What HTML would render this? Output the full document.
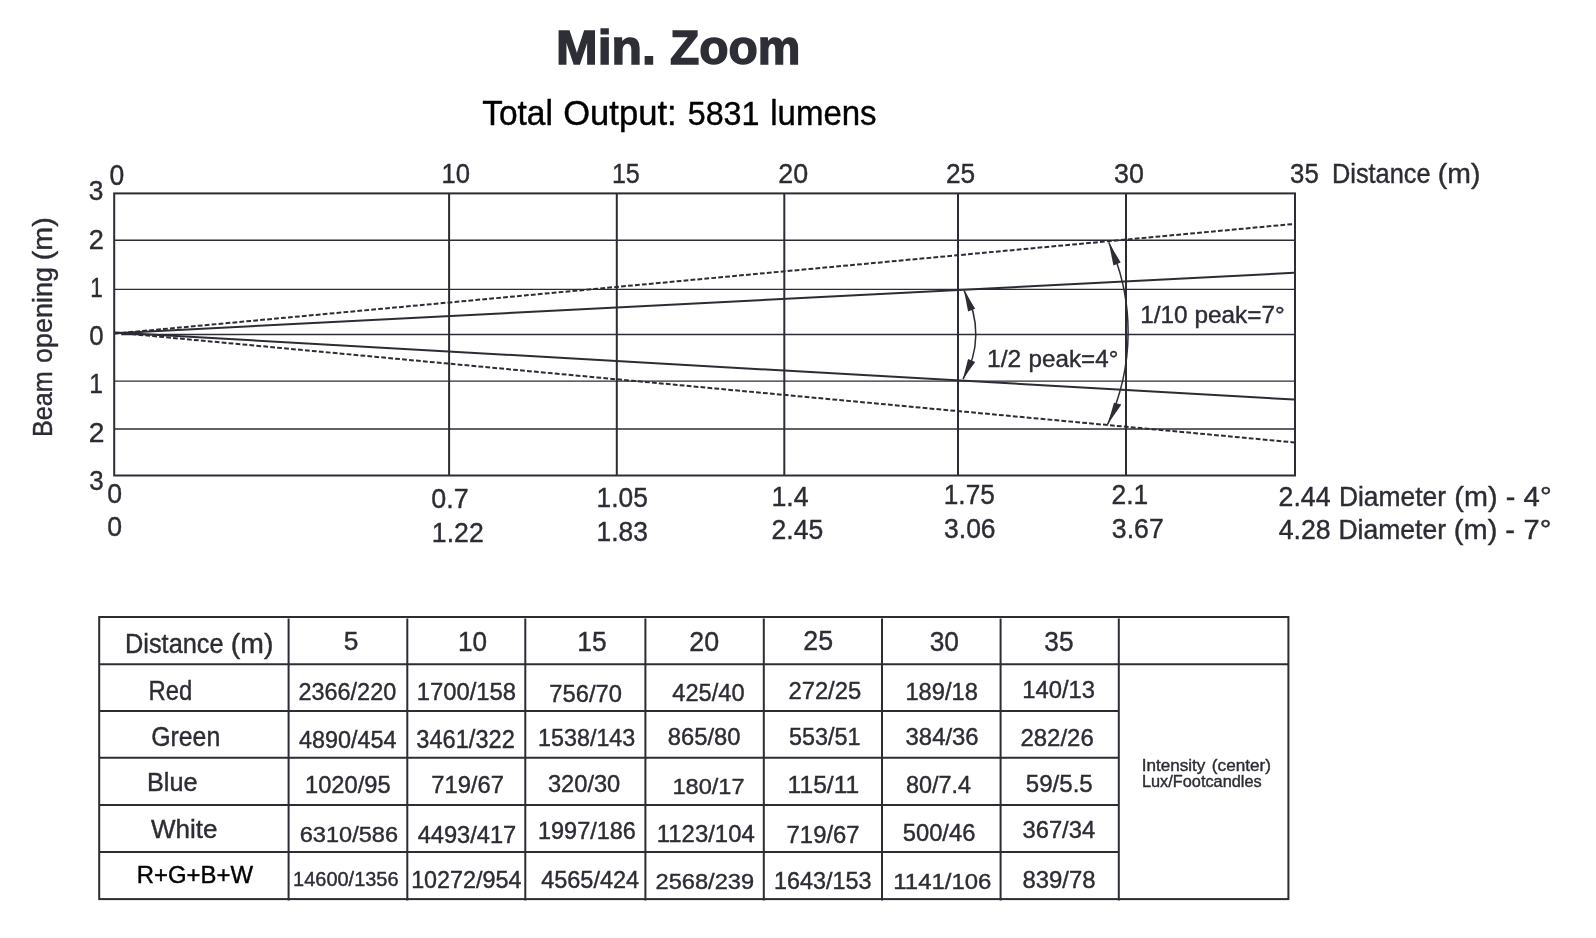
<!DOCTYPE html>
<html><head><meta charset="utf-8"><title>Min. Zoom</title>
<style>html,body{margin:0;padding:0;background:#fff;width:1596px;height:938px;overflow:hidden}svg{display:block;will-change:transform}text{font-family:"Liberation Sans",sans-serif}</style>
</head><body>
<svg width="1596" height="938" viewBox="0 0 1596 938">
<rect width="1596" height="938" fill="#fff"/>
<line x1="114.2" y1="240.2" x2="1295" y2="240.2" stroke="#2c2c34" stroke-width="1.4"/>
<line x1="114.2" y1="289.4" x2="1295" y2="289.4" stroke="#2c2c34" stroke-width="1.4"/>
<line x1="114.2" y1="381.1" x2="1295" y2="381.1" stroke="#2c2c34" stroke-width="1.4"/>
<line x1="114.2" y1="429" x2="1295" y2="429" stroke="#2c2c34" stroke-width="1.4"/>
<line x1="121.2" y1="334.46" x2="1295" y2="334.46" stroke="#2c2c34" stroke-width="1.4"/>
<line x1="449.1" y1="193.4" x2="449.1" y2="475.5" stroke="#2c2c34" stroke-width="2.0"/>
<line x1="616.8" y1="193.4" x2="616.8" y2="475.5" stroke="#2c2c34" stroke-width="2.0"/>
<line x1="784.3" y1="193.4" x2="784.3" y2="475.5" stroke="#2c2c34" stroke-width="2.0"/>
<line x1="958" y1="193.4" x2="958" y2="475.5" stroke="#2c2c34" stroke-width="2.0"/>
<line x1="1126" y1="193.4" x2="1126" y2="475.5" stroke="#2c2c34" stroke-width="2.0"/>
<rect x="114.2" y="193.4" width="1180.8" height="282.1" fill="none" stroke="#2c2c34" stroke-width="2"/>
<line x1="114.5" y1="333.2" x2="1294" y2="272.8" stroke="#2c2c34" stroke-width="2.0"/>
<line x1="114.5" y1="332.5" x2="1294" y2="399.5" stroke="#2c2c34" stroke-width="2.0"/>
<line x1="114.5" y1="333.6" x2="1292.5" y2="224.1" stroke="#2c2c34" stroke-width="2.0" stroke-dasharray="4.78 2.19" stroke-dashoffset="0.03"/>
<line x1="114.5" y1="332.5" x2="1294" y2="442.4" stroke="#2c2c34" stroke-width="2.0" stroke-dasharray="4.78 2.19" stroke-dashoffset="3.9"/>
<path d="M964 290.5 A85.71 85.71 0 0 1 963 379" fill="none" stroke="#2c2c34" stroke-width="1.5"/>
<path d="M1108.8 242.4 A217.98 217.98 0 0 1 1107.6 424.4" fill="none" stroke="#2c2c34" stroke-width="1.5"/>
<path d="M964 290.5 L968.1 311.6 L975.2 308.7 Z" fill="#2c2c34"/>
<path d="M962.9 379 L968.1 359.1 L975.2 362.1 Z" fill="#2c2c34"/>
<path d="M1108.8 242.4 L1113.4 265.4 L1120.7 262.5 Z" fill="#2c2c34"/>
<path d="M1107.6 424.4 L1114 402.7 L1121.4 404.4 Z" fill="#2c2c34"/>
<rect x="99.2" y="617.0" width="1189.2" height="282.1" fill="none" stroke="#2c2c34" stroke-width="2"/>
<line x1="99.2" y1="664.2" x2="1288.4" y2="664.2" stroke="#2c2c34" stroke-width="2.0"/>
<line x1="99.2" y1="710.9" x2="1118.8" y2="710.9" stroke="#2c2c34" stroke-width="2.0"/>
<line x1="99.2" y1="757.8" x2="1118.8" y2="757.8" stroke="#2c2c34" stroke-width="2.0"/>
<line x1="99.2" y1="805" x2="1118.8" y2="805" stroke="#2c2c34" stroke-width="2.0"/>
<line x1="99.2" y1="852.1" x2="1118.8" y2="852.1" stroke="#2c2c34" stroke-width="2.0"/>
<line x1="288.6" y1="618.5" x2="288.6" y2="900.6" stroke="#2c2c34" stroke-width="2.0"/>
<line x1="407.3" y1="618.5" x2="407.3" y2="900.6" stroke="#2c2c34" stroke-width="2.0"/>
<line x1="525.3" y1="618.5" x2="525.3" y2="900.6" stroke="#2c2c34" stroke-width="2.0"/>
<line x1="645.4" y1="618.5" x2="645.4" y2="900.6" stroke="#2c2c34" stroke-width="2.0"/>
<line x1="763.8" y1="618.5" x2="763.8" y2="900.6" stroke="#2c2c34" stroke-width="2.0"/>
<line x1="882" y1="618.5" x2="882" y2="900.6" stroke="#2c2c34" stroke-width="2.0"/>
<line x1="1000.6" y1="618.5" x2="1000.6" y2="900.6" stroke="#2c2c34" stroke-width="2.0"/>
<line x1="1118.8" y1="618.5" x2="1118.8" y2="900.6" stroke="#2c2c34" stroke-width="2.0"/>
<text transform="translate(556.1 64) scale(1.0507 1)" font-size="47.54" fill="#2e2e36" stroke="#2e2e36" stroke-width="1.4" font-weight="bold">Min.</text>
<text transform="translate(669.96 64) scale(1.0086 1)" font-size="47.54" fill="#2e2e36" stroke="#2e2e36" stroke-width="1.4" font-weight="bold">Zoom</text>
<text transform="translate(482.13 124.6) scale(0.9685 1)" font-size="34.64" fill="#000000" stroke="#000000" stroke-width="0.4">Total</text>
<text transform="translate(563.17 124.6) scale(0.9985 1)" font-size="34.64" fill="#000000" stroke="#000000" stroke-width="0.4">Output:</text>
<text transform="translate(687.71 124.6) scale(0.9487 1)" font-size="34" fill="#000000" stroke="#000000" stroke-width="0.4">5831</text>
<text transform="translate(770.29 124.6) scale(0.9522 1)" font-size="34.64" fill="#000000" stroke="#000000" stroke-width="0.4">lumens</text>
<text transform="translate(109.54 185.1) scale(0.9254 1)" font-size="28.59" fill="#2c2c34" stroke="#2c2c34" stroke-width="0.4">0</text>
<text transform="translate(441.45 183) scale(0.9064 1)" font-size="28.31" fill="#2c2c34" stroke="#2c2c34" stroke-width="0.4">10</text>
<text transform="translate(611.89 183) scale(0.8885 1)" font-size="28.31" fill="#2c2c34" stroke="#2c2c34" stroke-width="0.4">15</text>
<text transform="translate(778.26 183.3) scale(0.9490 1)" font-size="28.31" fill="#2c2c34" stroke="#2c2c34" stroke-width="0.4">20</text>
<text transform="translate(945.99 183.3) scale(0.9282 1)" font-size="28.31" fill="#2c2c34" stroke="#2c2c34" stroke-width="0.4">25</text>
<text transform="translate(1114.02 183.3) scale(0.9500 1)" font-size="28.31" fill="#2c2c34" stroke="#2c2c34" stroke-width="0.4">30</text>
<text transform="translate(1290.07 183.3) scale(0.9089 1)" font-size="28.31" fill="#2c2c34" stroke="#2c2c34" stroke-width="0.4">35</text>
<text transform="translate(1331.97 182.7) scale(0.9407 1)" font-size="26.96" fill="#2c2c34" stroke="#2c2c34" stroke-width="0.4">Distance</text>
<text transform="translate(1437.8 182.7) scale(1.0538 1)" font-size="26.96" fill="#2c2c34" stroke="#2c2c34" stroke-width="0.4">(m)</text>
<text transform="translate(88.84 200) scale(0.9511 1)" font-size="27.74" fill="#2c2c34" stroke="#2c2c34" stroke-width="0.4">3</text>
<text transform="translate(88.84 248.5) scale(0.9950 1)" font-size="27.31" fill="#2c2c34" stroke="#2c2c34" stroke-width="0.4">2</text>
<text transform="translate(90.2 296.8) scale(0.8217 1)" font-size="27.45" fill="#2c2c34" stroke="#2c2c34" stroke-width="0.4">1</text>
<text transform="translate(89.27 345.1) scale(0.9126 1)" font-size="28.31" fill="#2c2c34" stroke="#2c2c34" stroke-width="0.4">0</text>
<text transform="translate(89.33 392.5) scale(0.8797 1)" font-size="28.02" fill="#2c2c34" stroke="#2c2c34" stroke-width="0.4">1</text>
<text transform="translate(88.79 442.4) scale(1.0085 1)" font-size="28.02" fill="#2c2c34" stroke="#2c2c34" stroke-width="0.4">2</text>
<text transform="translate(89.16 490.4) scale(0.9263 1)" font-size="28.02" fill="#2c2c34" stroke="#2c2c34" stroke-width="0.4">3</text>
<text transform="translate(107.23 502.9) scale(0.9516 1)" font-size="28.02" fill="#2c2c34" stroke="#2c2c34" stroke-width="0.4">0</text>
<text transform="translate(431.32 507.9) scale(0.9657 1)" font-size="27.88" fill="#2c2c34" stroke="#2c2c34" stroke-width="0.4">0.7</text>
<text transform="translate(596.49 507.1) scale(0.9317 1)" font-size="28.31" fill="#2c2c34" stroke="#2c2c34" stroke-width="0.4">1.05</text>
<text transform="translate(771.46 505.8) scale(0.9661 1)" font-size="27.74" fill="#2c2c34" stroke="#2c2c34" stroke-width="0.4">1.4</text>
<text transform="translate(943.8 504.1) scale(0.9449 1)" font-size="27.74" fill="#2c2c34" stroke="#2c2c34" stroke-width="0.4">1.75</text>
<text transform="translate(1111.58 504.1) scale(0.9530 1)" font-size="27.74" fill="#2c2c34" stroke="#2c2c34" stroke-width="0.4">2.1</text>
<text transform="translate(1278.57 505.6) scale(0.9822 1)" font-size="27.17" fill="#2c2c34" stroke="#2c2c34" stroke-width="0.4">2.44</text>
<text transform="translate(1338.89 505.6) scale(0.9542 1)" font-size="27.68" fill="#2c2c34" stroke="#2c2c34" stroke-width="0.4">Diameter</text>
<text transform="translate(1454.37 505.6) scale(1.0393 1)" font-size="27.68" fill="#2c2c34" stroke="#2c2c34" stroke-width="0.4">(m)</text>
<text transform="translate(1505.65 505.6) scale(1.0404 1)" font-size="27.68" fill="#2c2c34" stroke="#2c2c34" stroke-width="0.4">-</text>
<text transform="translate(1523.61 505.6) scale(1.0788 1)" font-size="27.17" fill="#2c2c34" stroke="#2c2c34" stroke-width="0.4">4°</text>
<text transform="translate(107.23 536.1) scale(0.9516 1)" font-size="28.02" fill="#2c2c34" stroke="#2c2c34" stroke-width="0.4">0</text>
<text transform="translate(431.87 541.7) scale(0.9607 1)" font-size="27.74" fill="#2c2c34" stroke="#2c2c34" stroke-width="0.4">1.22</text>
<text transform="translate(596.49 541) scale(0.9460 1)" font-size="27.88" fill="#2c2c34" stroke="#2c2c34" stroke-width="0.4">1.83</text>
<text transform="translate(771.57 538.7) scale(0.9423 1)" font-size="28.17" fill="#2c2c34" stroke="#2c2c34" stroke-width="0.4">2.45</text>
<text transform="translate(944.04 538) scale(0.9507 1)" font-size="27.88" fill="#2c2c34" stroke="#2c2c34" stroke-width="0.4">3.06</text>
<text transform="translate(1111.83 538) scale(0.9565 1)" font-size="27.88" fill="#2c2c34" stroke="#2c2c34" stroke-width="0.4">3.67</text>
<text transform="translate(1278.67 538.6) scale(0.9808 1)" font-size="27.17" fill="#2c2c34" stroke="#2c2c34" stroke-width="0.4">4.28</text>
<text transform="translate(1338.38 538.6) scale(0.9588 1)" font-size="27.68" fill="#2c2c34" stroke="#2c2c34" stroke-width="0.4">Diameter</text>
<text transform="translate(1453.86 538.6) scale(1.0471 1)" font-size="27.68" fill="#2c2c34" stroke="#2c2c34" stroke-width="0.4">(m)</text>
<text transform="translate(1505.23 538.6) scale(1.0549 1)" font-size="27.68" fill="#2c2c34" stroke="#2c2c34" stroke-width="0.4">-</text>
<text transform="translate(1523.55 538.6) scale(1.0691 1)" font-size="27.17" fill="#2c2c34" stroke="#2c2c34" stroke-width="0.4">7°</text>
<text transform="translate(1140.25 322.8) scale(1.0175 1)" font-size="23.9" fill="#2c2c34" stroke="#2c2c34" stroke-width="0.4">1/10</text>
<text transform="translate(1194.5 322.8) scale(0.9993 1)" font-size="24.35" fill="#2c2c34" stroke="#2c2c34" stroke-width="0.4">peak=7°</text>
<text transform="translate(987.03 366.8) scale(1.0295 1)" font-size="23.9" fill="#2c2c34" stroke="#2c2c34" stroke-width="0.4">1/2</text>
<text transform="translate(1028.61 366.8) scale(0.9935 1)" font-size="24.35" fill="#2c2c34" stroke="#2c2c34" stroke-width="0.4">peak=4°</text>
<text transform="translate(124.97 652.8) scale(0.9357 1)" font-size="27.1" fill="#2c2c34" stroke="#2c2c34" stroke-width="0.4">Distance</text>
<text transform="translate(230.8 652.8) scale(1.0481 1)" font-size="27.1" fill="#2c2c34" stroke="#2c2c34" stroke-width="0.4">(m)</text>
<text transform="translate(343.84 650.2) scale(1.0362 1)" font-size="25.46" fill="#2c2c34" stroke="#2c2c34" stroke-width="0.4">5</text>
<text transform="translate(458.01 650.8) scale(0.9432 1)" font-size="27.74" fill="#2c2c34" stroke="#2c2c34" stroke-width="0.4">10</text>
<text transform="translate(577.3 650.8) scale(0.9468 1)" font-size="27.74" fill="#2c2c34" stroke="#2c2c34" stroke-width="0.4">15</text>
<text transform="translate(689.36 650.8) scale(0.9635 1)" font-size="27.88" fill="#2c2c34" stroke="#2c2c34" stroke-width="0.4">20</text>
<text transform="translate(803.26 649.8) scale(0.9455 1)" font-size="28.31" fill="#2c2c34" stroke="#2c2c34" stroke-width="0.4">25</text>
<text transform="translate(929.65 650.8) scale(0.9437 1)" font-size="27.88" fill="#2c2c34" stroke="#2c2c34" stroke-width="0.4">30</text>
<text transform="translate(1044.35 650.8) scale(0.9402 1)" font-size="27.88" fill="#2c2c34" stroke="#2c2c34" stroke-width="0.4">35</text>
<text transform="translate(148.59 700.1) scale(0.8706 1)" font-size="27.39" fill="#2c2c34" stroke="#2c2c34" stroke-width="0.4">Red</text>
<text transform="translate(298.53 699.8) scale(0.9577 1)" font-size="24.47" fill="#2c2c34" stroke="#2c2c34" stroke-width="0.4">2366/220</text>
<text transform="translate(416.69 699.8) scale(0.9739 1)" font-size="24.47" fill="#2c2c34" stroke="#2c2c34" stroke-width="0.4">1700/158</text>
<text transform="translate(549.31 701.8) scale(1.0053 1)" font-size="23.61" fill="#2c2c34" stroke="#2c2c34" stroke-width="0.4">756/70</text>
<text transform="translate(672.23 700.8) scale(0.9730 1)" font-size="24.32" fill="#2c2c34" stroke="#2c2c34" stroke-width="0.4">425/40</text>
<text transform="translate(788.41 698.9) scale(0.9844 1)" font-size="24.18" fill="#2c2c34" stroke="#2c2c34" stroke-width="0.4">272/25</text>
<text transform="translate(905.4 699.9) scale(1.0106 1)" font-size="23.47" fill="#2c2c34" stroke="#2c2c34" stroke-width="0.4">189/18</text>
<text transform="translate(1022.3 698) scale(0.9895 1)" font-size="24.04" fill="#2c2c34" stroke="#2c2c34" stroke-width="0.4">140/13</text>
<text transform="translate(151.16 745.8) scale(0.9072 1)" font-size="27.39" fill="#2c2c34" stroke="#2c2c34" stroke-width="0.4">Green</text>
<text transform="translate(298.93 747.7) scale(0.9969 1)" font-size="23.47" fill="#2c2c34" stroke="#2c2c34" stroke-width="0.4">4890/454</text>
<text transform="translate(416.36 747.7) scale(0.9482 1)" font-size="24.89" fill="#2c2c34" stroke="#2c2c34" stroke-width="0.4">3461/322</text>
<text transform="translate(538.03 746.4) scale(0.9941 1)" font-size="23.47" fill="#2c2c34" stroke="#2c2c34" stroke-width="0.4">1538/143</text>
<text transform="translate(667.75 745.3) scale(0.9911 1)" font-size="24.04" fill="#2c2c34" stroke="#2c2c34" stroke-width="0.4">865/80</text>
<text transform="translate(788.96 745.3) scale(0.9910 1)" font-size="23.61" fill="#2c2c34" stroke="#2c2c34" stroke-width="0.4">553/51</text>
<text transform="translate(905.54 745.3) scale(0.9944 1)" font-size="24.04" fill="#2c2c34" stroke="#2c2c34" stroke-width="0.4">384/36</text>
<text transform="translate(1020.4 746.4) scale(1.0220 1)" font-size="23.47" fill="#2c2c34" stroke="#2c2c34" stroke-width="0.4">282/26</text>
<text transform="translate(146.98 791.4) scale(0.9685 1)" font-size="26.09" fill="#2c2c34" stroke="#2c2c34" stroke-width="0.4">Blue</text>
<text transform="translate(305 793.3) scale(1.0035 1)" font-size="23.61" fill="#2c2c34" stroke="#2c2c34" stroke-width="0.4">1020/95</text>
<text transform="translate(431.21 793.3) scale(1.0072 1)" font-size="23.61" fill="#2c2c34" stroke="#2c2c34" stroke-width="0.4">719/67</text>
<text transform="translate(547.95 792.1) scale(1.0080 1)" font-size="23.47" fill="#2c2c34" stroke="#2c2c34" stroke-width="0.4">320/30</text>
<text transform="translate(672.41 794.2) scale(1.0298 1)" font-size="22.9" fill="#2c2c34" stroke="#2c2c34" stroke-width="0.4">180/17</text>
<text transform="translate(787.53 792.7) scale(1.0514 1)" font-size="23.47" fill="#2c2c34" stroke="#2c2c34" stroke-width="0.4">115/11</text>
<text transform="translate(905.96 793.3) scale(0.9923 1)" font-size="23.61" fill="#2c2c34" stroke="#2c2c34" stroke-width="0.4">80/7.4</text>
<text transform="translate(1025.84 791.8) scale(1.0195 1)" font-size="23.61" fill="#2c2c34" stroke="#2c2c34" stroke-width="0.4">59/5.5</text>
<text transform="translate(150.94 838.3) scale(1.0038 1)" font-size="25.94" fill="#2c2c34" stroke="#2c2c34" stroke-width="0.4">White</text>
<text transform="translate(299.72 842) scale(1.0425 1)" font-size="22.62" fill="#2c2c34" stroke="#2c2c34" stroke-width="0.4">6310/586</text>
<text transform="translate(417.63 842.6) scale(1.0080 1)" font-size="23.47" fill="#2c2c34" stroke="#2c2c34" stroke-width="0.4">4493/417</text>
<text transform="translate(538.02 839.4) scale(1.0190 1)" font-size="23.04" fill="#2c2c34" stroke="#2c2c34" stroke-width="0.4">1997/186</text>
<text transform="translate(656.79 841.6) scale(1.0187 1)" font-size="23.47" fill="#2c2c34" stroke="#2c2c34" stroke-width="0.4">1123/104</text>
<text transform="translate(786.61 842.6) scale(1.0162 1)" font-size="23.47" fill="#2c2c34" stroke="#2c2c34" stroke-width="0.4">719/67</text>
<text transform="translate(902.75 840.7) scale(1.0114 1)" font-size="23.47" fill="#2c2c34" stroke="#2c2c34" stroke-width="0.4">500/46</text>
<text transform="translate(1022.45 838.3) scale(1.0070 1)" font-size="23.61" fill="#2c2c34" stroke="#2c2c34" stroke-width="0.4">367/34</text>
<text transform="translate(136.79 883) scale(1.0239 1)" font-size="23.33" fill="#000000" stroke="#000000" stroke-width="0.4">R+G+B+W</text>
<text transform="translate(293.1 886.4) scale(1.0096 1)" font-size="19.77" fill="#2c2c34" stroke="#2c2c34" stroke-width="0.4">14600/1356</text>
<text transform="translate(411.13 887.7) scale(0.9960 1)" font-size="23.47" fill="#2c2c34" stroke="#2c2c34" stroke-width="0.4">10272/954</text>
<text transform="translate(541.13 887.7) scale(1.0021 1)" font-size="23.47" fill="#2c2c34" stroke="#2c2c34" stroke-width="0.4">4565/424</text>
<text transform="translate(655.52 889.2) scale(1.0331 1)" font-size="22.9" fill="#2c2c34" stroke="#2c2c34" stroke-width="0.4">2568/239</text>
<text transform="translate(774.03 888.6) scale(0.9962 1)" font-size="23.47" fill="#2c2c34" stroke="#2c2c34" stroke-width="0.4">1643/153</text>
<text transform="translate(893.28 889.2) scale(1.0460 1)" font-size="22.9" fill="#2c2c34" stroke="#2c2c34" stroke-width="0.4">1141/106</text>
<text transform="translate(1022.44 888.3) scale(1.0138 1)" font-size="23.61" fill="#2c2c34" stroke="#2c2c34" stroke-width="0.4">839/78</text>
<text transform="translate(1141.66 770.5) scale(1.0355 1)" font-size="16.52" fill="#2c2c34" stroke="#2c2c34" stroke-width="0.4">Intensity</text>
<text transform="translate(1211.87 770.5) scale(1.0373 1)" font-size="16.52" fill="#2c2c34" stroke="#2c2c34" stroke-width="0.4">(center)</text>
<text transform="translate(1141.89 786.6) scale(0.9892 1)" font-size="16.52" fill="#2c2c34" stroke="#2c2c34" stroke-width="0.4">Lux/Footcandles</text>
<text transform="translate(52.1 437.11) rotate(-90) scale(0.8957 1)" font-size="28.12" fill="#2c2c34" stroke="#2c2c34" stroke-width="0.4">Beam</text>
<text transform="translate(52.1 362.88) rotate(-90) scale(0.9577 1)" font-size="28.12" fill="#2c2c34" stroke="#2c2c34" stroke-width="0.4">opening</text>
<text transform="translate(52.1 260.22) rotate(-90) scale(1.0206 1)" font-size="28.12" fill="#2c2c34" stroke="#2c2c34" stroke-width="0.4">(m)</text>
</svg>
</body></html>
